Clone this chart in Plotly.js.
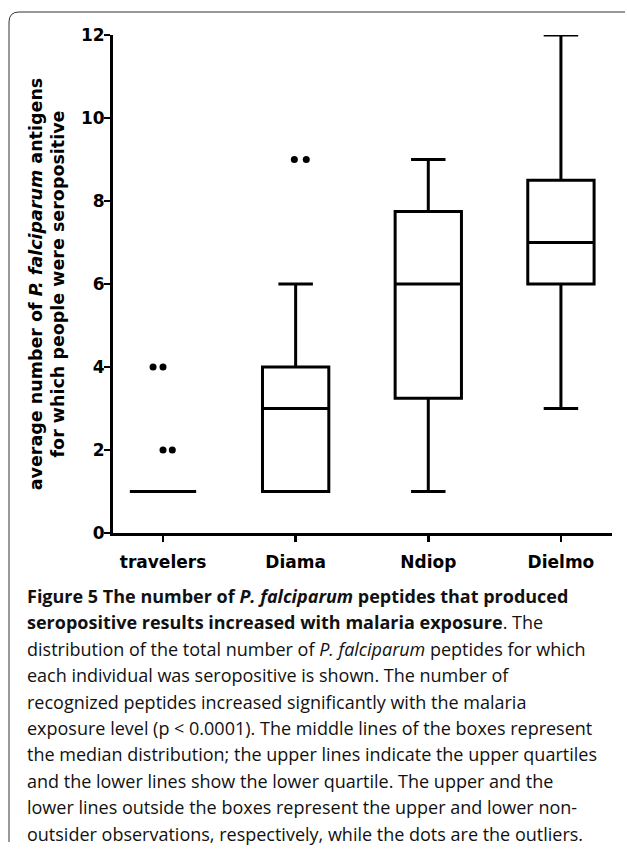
<!DOCTYPE html>
<html>
<head>
<meta charset="utf-8">
<script src="https://cdn.plot.ly/plotly-3.0.1.min.js"></script>
<style>
html,body{margin:0;padding:0;background:#fff;}
#chart{width:627px;height:851px;}
</style>
</head>
<body>
<div id="chart"></div>
<script>
// ---- data ----
const categories = ["travelers", "Diama", "Ndiop", "Dielmo"];
const lowerWhisker = [1, 1, 1, 3];
const q1Values = [1, 1, 3.25, 6];
const medianValues = [1, 3, 6, 7];
const q3Values = [1, 4, 7.75, 8.5];
const upperWhisker = [1, 6, 9, 12];
const outlierGroup = ["travelers", "travelers", "travelers", "travelers", "Diama", "Diama"];
const outlierValues = [4, 4, 2, 2, 9, 9];
const yTickValues = [0, 2, 4, 6, 8, 10, 12];

const captionLines = [
  "<b>Figure 5 The number of <i>P. falciparum</i> peptides that produced</b>",
  "<b>seropositive results increased with malaria exposure</b>. The",
  "distribution of the total number of <i>P. falciparum</i> peptides for which",
  "each individual was seropositive is shown. The number of",
  "recognized peptides increased significantly with the malaria",
  "exposure level (p &lt; 0.0001). The middle lines of the boxes represent",
  "the median distribution; the upper lines indicate the upper quartiles",
  "and the lower lines show the lower quartile. The upper and the",
  "lower lines outside the boxes represent the upper and lower non-",
  "outsider observations, respectively, while the dots are the outliers."
];

// ---- layout geometry ----
const W = 627, H = 851;
const ML = 113, MR = 15, MT = 35, MB = 318;
const PW = W - ML - MR, PH = H - MT - MB;
const px2x = px => (px - ML) / PW;
const py2y = py => (H - MB - py) / PH;

// small horizontal dodge so equal outliers sit side by side
const dodge = [-0.075, 0, 0, 0.07, -0.01, 0.08];
const catIndex = categories.map((c, i) => i);
const outX = outlierGroup.map((g, k) => categories.indexOf(g) + dodge[k]);

const boxTrace = {
  type: "box",
  x: catIndex,
  q1: q1Values,
  median: medianValues,
  q3: q3Values,
  lowerfence: lowerWhisker,
  upperfence: upperWhisker,
  width: 0.5,
  whiskerwidth: 0.52,
  boxpoints: false,
  line: {color: "#000", width: 3},
  fillcolor: "rgba(255,255,255,0)",
  showlegend: false,
  hoverinfo: "skip"
};

const outTrace = {
  type: "scatter",
  mode: "markers",
  x: outX,
  y: outlierValues,
  marker: {color: "#000", size: 7},
  showlegend: false,
  hoverinfo: "skip",
  cliponaxis: false
};

const annotations = captionLines.map((t, i) => ({
  text: t,
  xref: "paper", yref: "paper",
  x: px2x(25), y: py2y(596 + i * 26.4),
  xanchor: "left", yanchor: "middle",
  showarrow: false,
  font: {family: "Open Sans", size: 18, color: "#111"}
}));

const bx = px2x(9), br = px2x(625), r = 10;
const by = py2y(12), bb = py2y(842);
const rx = r / PW, ry = r / PH;
const borderPath = `M ${br},${by} L ${bx + rx},${by} Q ${bx},${by} ${bx},${by - ry} L ${bx},${bb}`;

const layout = {
  width: W, height: H,
  margin: {l: ML, r: MR, t: MT, b: MB},
  paper_bgcolor: "#fff",
  plot_bgcolor: "#fff",
  showlegend: false,
  xaxis: {
    range: [-0.377, 3.385],
    tickvals: catIndex,
    ticktext: categories,
    showline: true, linecolor: "#000", linewidth: 3,
    ticks: "outside", ticklen: 6, tickwidth: 2.5, tickcolor: "#000",
    ticklabelstandoff: 6,
    showgrid: false, zeroline: false,
    tickfont: {family: "DejaVu Sans", size: 17, weight: "bold", color: "#000"}
  },
  yaxis: {
    range: [0, 12],
    tickvals: yTickValues,
    showline: true, linecolor: "#000", linewidth: 3,
    ticks: "outside", ticklen: 6, tickwidth: 2.5, tickcolor: "#000",
    ticklabelstandoff: -4,
    showgrid: false, zeroline: false,
    tickfont: {family: "DejaVu Sans", size: 17, weight: "bold", color: "#000"},
    title: {
      text: "average number of <i>P. falciparum</i> antigens<br>for which people were seropositive",
      font: {family: "DejaVu Sans", size: 17.5, weight: "bold", color: "#000"},
      standoff: 12
    }
  },
  annotations: annotations,
  shapes: [{
    type: "path", xref: "paper", yref: "paper",
    path: borderPath,
    line: {color: "#333", width: 1}
  }]
};

Plotly.newPlot("chart", [boxTrace, outTrace], layout, {staticPlot: true});
</script>
</body>
</html>
